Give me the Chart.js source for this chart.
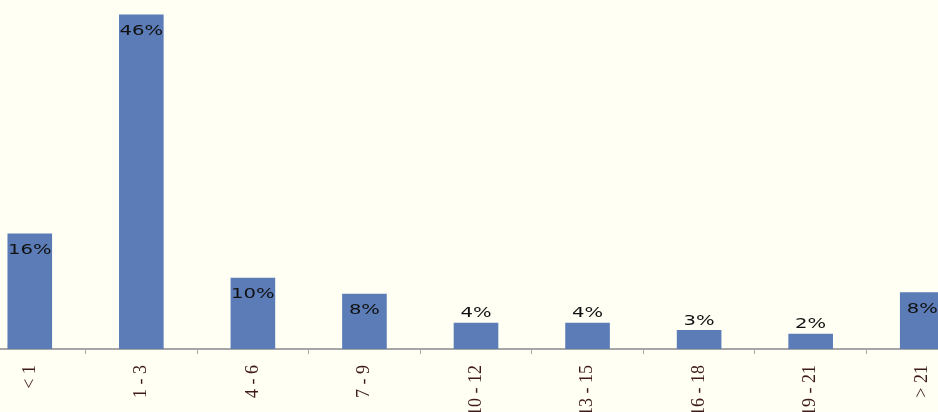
<!DOCTYPE html>
<html>
<head>
<meta charset="utf-8">
<script src="https://cdn.jsdelivr.net/npm/chart.js@4/dist/chart.umd.min.js"></script>
<style>
  html, body { margin: 0; padding: 0; background: #fffff4; overflow: hidden; }
  body { width: 938px; height: 412px; position: relative; }
  #wrap { position: absolute; left: -26px; top: 0; width: 1004px; height: 412px; }
</style>
</head>
<body>
<div id="wrap"><canvas id="chart"></canvas></div>
<script>
const categories = ['< 1', '1 - 3', '4 - 6', '7 - 9', '10 - 12', '13 - 15', '16 - 18', '19 - 21', '> 21'];
const shares = [15.9, 46, 9.8, 7.6, 3.6, 3.6, 2.6, 2.1, 7.8];
const shareLabels = ['16%', '46%', '10%', '8%', '4%', '4%', '3%', '2%', '8%'];

// percent labels: inside the top of tall bars, above short ones
const barLabels = {
  id: 'barLabels',
  afterDatasetsDraw(chart) {
    const ctx = chart.ctx;
    const meta = chart.getDatasetMeta(0);
    ctx.save();
    ctx.font = '14px "DejaVu Sans"';
    ctx.fillStyle = '#111';
    ctx.textAlign = 'center';
    ctx.textBaseline = 'middle';
    meta.data.forEach((bar, i) => {
      const h = bar.base - bar.y;
      const y = h > 40 ? bar.y + 17 : bar.y - 9;
      ctx.save();
      ctx.translate(bar.x, y);
      ctx.scale(1.4, 1);
      ctx.fillText(shareLabels[i], 0, 0);
      ctx.restore();
    });
    ctx.restore();
  }
};

new Chart(document.getElementById('chart'), {
  type: 'bar',
  data: {
    labels: categories,
    datasets: [{
      data: shares,
      backgroundColor: '#5b7cb7',
      borderWidth: 0,
      barPercentage: 0.4,
      categoryPercentage: 1,
    }],
  },
  options: {
    responsive: true,
    maintainAspectRatio: false,
    animation: false,
    layout: { padding: 0 },
    plugins: { legend: { display: false }, tooltip: { enabled: false } },
    scales: {
      y: { display: false, min: 0, max: 48 },
      x: {
        offset: true,
        afterFit: (s) => { s.height = 63; },
        border: { color: '#a6a6a6', width: 2 },
        grid: { drawOnChartArea: false, tickLength: 5, color: '#a6a6a6', offset: true },
        ticks: {
          minRotation: 90,
          maxRotation: 90,
          padding: 11,
          color: '#3e1a1a',
          font: { family: '"Liberation Serif"', size: 18 },
        },
      },
    },
  },
  plugins: [barLabels],
});
</script>
</body>
</html>
